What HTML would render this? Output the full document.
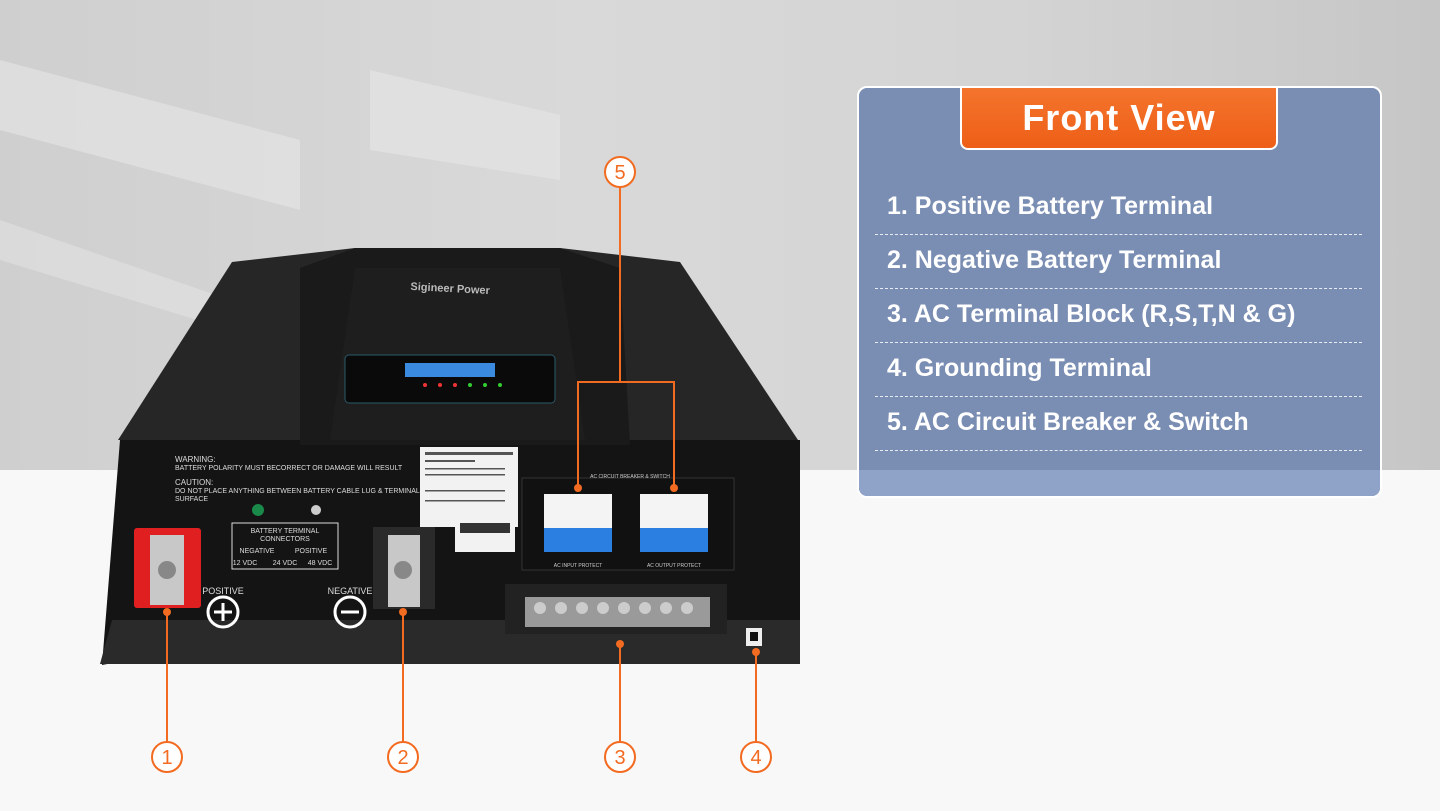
<!DOCTYPE html>
<html><head><meta charset="utf-8"><style>
html,body{margin:0;padding:0}
body{width:1440px;height:811px;position:relative;overflow:hidden;background:#fff;font-family:"Liberation Sans",sans-serif}
.bg{position:absolute;left:0;top:0;width:1440px;height:470px;background:linear-gradient(90deg,#cfcfcf 0%,#d9d9d9 40%,#d4d4d4 70%,#c6c6c6 100%)}
.bg2{position:absolute;left:0;top:470px;width:1440px;height:341px;background:#f8f8f8}
.panel{position:absolute;left:857px;top:86px;width:521px;height:408px;border:2px solid #fff;border-radius:10px;background:#7a8db3;overflow:hidden}
.panel .strip{position:absolute;left:0;bottom:0;width:100%;height:26px;background:#8fa3c8}
.title{position:absolute;left:960px;top:88px;width:318px;height:62px;background:linear-gradient(#f4742d,#ee5f17);border:2px solid #fff;border-top:none;border-radius:0 0 8px 8px;box-sizing:border-box;color:#fff;font-weight:bold;font-size:36px;text-align:center;line-height:60px;letter-spacing:1px}
.item{position:absolute;left:887px;color:#fff;font-weight:bold;font-size:25px}
.sep{position:absolute;left:875px;width:487px;border-top:1px dashed #e8ecf5}
</style></head><body>
<div class="bg"></div><div class="bg2"></div>
<svg style="position:absolute;left:0;top:0" width="1440" height="811">
<polygon points="0,60 300,140 300,210 0,130" fill="#e6e6e6" opacity=".6"/>
<polygon points="0,220 230,300 230,330 0,260" fill="#e6e6e6" opacity=".5"/>
<polygon points="370,70 560,115 560,180 370,150" fill="#e6e6e6" opacity=".6"/>
<!-- body -->
<polygon points="120,440 800,440 800,662 770,662 118,662 102,665" fill="#141414"/>
<polygon points="112,620 800,620 800,664 100,664" fill="#2a2a2a"/>
<polygon points="118,440 232,262 355,248 355,440" fill="#262626"/>
<polygon points="560,248 680,262 798,440 560,440" fill="#262626"/>
<polygon points="300,268 355,248 560,248 620,268 630,445 300,445" fill="#1a1a1a"/>
<polygon points="355,268 560,268 585,440 330,440" fill="#1e1e1e"/>
<text x="450" y="292" fill="#bbb" font-size="11" font-weight="bold" text-anchor="middle" transform="rotate(3 450 292)">Sigineer Power</text>
<rect x="345" y="355" width="210" height="48" rx="4" fill="#0a0a0a" stroke="#2a5a6a"/>
<rect x="405" y="363" width="90" height="14" fill="#3a8adf"/>
<g fill="#e33"><circle cx="425" cy="385" r="2"/><circle cx="440" cy="385" r="2"/><circle cx="455" cy="385" r="2"/></g>
<g fill="#3c3"><circle cx="470" cy="385" r="2"/><circle cx="485" cy="385" r="2"/><circle cx="500" cy="385" r="2"/></g>
<text x="175" y="462" fill="#ddd" font-size="8">WARNING:</text>
<text x="175" y="470" fill="#ddd" font-size="7">BATTERY POLARITY MUST BECORRECT OR DAMAGE WILL RESULT</text>
<text x="175" y="485" fill="#ddd" font-size="8">CAUTION:</text>
<text x="175" y="493" fill="#ddd" font-size="7">DO NOT PLACE ANYTHING BETWEEN BATTERY CABLE LUG &amp; TERMINAL</text>
<text x="175" y="501" fill="#ddd" font-size="7">SURFACE</text>
<circle cx="258" cy="510" r="6" fill="#1a8a4a"/><circle cx="316" cy="510" r="5" fill="#ccc"/>
<rect x="232" y="523" width="106" height="46" fill="none" stroke="#ddd"/>
<text x="285" y="533" fill="#ddd" font-size="7" text-anchor="middle">BATTERY TERMINAL</text>
<text x="285" y="541" fill="#ddd" font-size="7" text-anchor="middle">CONNECTORS</text>
<text x="257" y="553" fill="#ddd" font-size="7" text-anchor="middle">NEGATIVE</text>
<text x="311" y="553" fill="#ddd" font-size="7" text-anchor="middle">POSITIVE</text>
<text x="245" y="565" fill="#ddd" font-size="7" text-anchor="middle">12 VDC</text>
<text x="285" y="565" fill="#ddd" font-size="7" text-anchor="middle">24 VDC</text>
<text x="320" y="565" fill="#ddd" font-size="7" text-anchor="middle">48 VDC</text>
<rect x="134" y="528" width="67" height="80" rx="3" fill="#e02020"/>
<rect x="150" y="535" width="34" height="70" fill="#c8c8c8"/>
<circle cx="167" cy="570" r="9" fill="#888"/>
<text x="223" y="594" fill="#ddd" font-size="9" text-anchor="middle">POSITIVE</text>
<circle cx="223" cy="612" r="15" fill="none" stroke="#fff" stroke-width="3"/>
<path d="M214 612h18M223 603v18" stroke="#fff" stroke-width="3"/>
<rect x="373" y="527" width="62" height="82" fill="#2a2a2a"/>
<rect x="388" y="535" width="32" height="72" fill="#c8c8c8"/>
<circle cx="403" cy="570" r="9" fill="#888"/>
<text x="350" y="594" fill="#ddd" font-size="9" text-anchor="middle">NEGATIVE</text>
<circle cx="350" cy="612" r="15" fill="none" stroke="#fff" stroke-width="3"/>
<path d="M341 612h18" stroke="#fff" stroke-width="3"/>
<rect x="420" y="447" width="98" height="80" fill="#f2f2f2"/>
<g fill="#555"><rect x="425" y="452" width="88" height="3"/><rect x="425" y="460" width="50" height="2"/><rect x="425" y="468" width="80" height="1.5"/><rect x="425" y="474" width="80" height="1.5"/><rect x="425" y="490" width="80" height="1.5"/><rect x="425" y="500" width="80" height="1.5"/></g>
<rect x="455" y="520" width="60" height="32" fill="#f2f2f2"/>
<rect x="460" y="523" width="50" height="10" fill="#333"/>
<rect x="522" y="478" width="212" height="92" fill="#111" stroke="#333"/>
<text x="630" y="478" fill="#ccc" font-size="5" text-anchor="middle">AC CIRCUIT BREAKER &amp; SWITCH</text>
<rect x="544" y="494" width="68" height="58" fill="#f4f4f4"/><rect x="544" y="528" width="68" height="24" fill="#2a7fe0"/>
<rect x="640" y="494" width="68" height="58" fill="#f4f4f4"/><rect x="640" y="528" width="68" height="24" fill="#2a7fe0"/>
<text x="578" y="567" fill="#ccc" font-size="5" text-anchor="middle">AC INPUT PROTECT</text>
<text x="674" y="567" fill="#ccc" font-size="5" text-anchor="middle">AC OUTPUT PROTECT</text>
<rect x="505" y="584" width="222" height="50" fill="#222"/>
<rect x="525" y="597" width="185" height="30" fill="#9a9a9a"/>
<g fill="#ccc"><circle cx="540" cy="608" r="6"/><circle cx="561" cy="608" r="6"/><circle cx="582" cy="608" r="6"/><circle cx="603" cy="608" r="6"/><circle cx="624" cy="608" r="6"/><circle cx="645" cy="608" r="6"/><circle cx="666" cy="608" r="6"/><circle cx="687" cy="608" r="6"/></g>
<rect x="746" y="628" width="16" height="18" fill="#eee"/><rect x="750" y="632" width="8" height="9" fill="#111"/>
<!-- callouts -->
<g stroke="#f26b21" stroke-width="2" fill="none">
<path d="M167 612V742M403 612V742M620 644V742M756 652V742"/>
<path d="M620 187V382M578 488V382H674V488"/>
</g>
<g fill="#f26b21"><circle cx="167" cy="612" r="4"/><circle cx="403" cy="612" r="4"/><circle cx="620" cy="644" r="4"/><circle cx="756" cy="652" r="4"/><circle cx="578" cy="488" r="4"/><circle cx="674" cy="488" r="4"/></g>
<g fill="#fff" stroke="#f26b21" stroke-width="2">
<circle cx="167" cy="757" r="15"/><circle cx="403" cy="757" r="15"/><circle cx="620" cy="757" r="15"/><circle cx="756" cy="757" r="15"/><circle cx="620" cy="172" r="15"/>
</g>
<g fill="#f26b21" font-size="20" text-anchor="middle" font-family="Liberation Sans">
<text x="167" y="764">1</text><text x="403" y="764">2</text><text x="620" y="764">3</text><text x="756" y="764">4</text><text x="620" y="179">5</text>
</g>
</svg>
<div class="panel"><div class="strip"></div></div>
<div class="title">Front View</div>
<div class="item" style="top:192px">1. Positive Battery Terminal</div>
<div class="sep" style="top:234px"></div>
<div class="item" style="top:246px">2. Negative Battery Terminal</div>
<div class="sep" style="top:288px"></div>
<div class="item" style="top:300px">3. AC Terminal Block (R,S,T,N &amp; G)</div>
<div class="sep" style="top:342px"></div>
<div class="item" style="top:354px">4. Grounding Terminal</div>
<div class="sep" style="top:396px"></div>
<div class="item" style="top:408px">5. AC Circuit Breaker &amp; Switch</div>
<div class="sep" style="top:450px"></div>
</body></html>
